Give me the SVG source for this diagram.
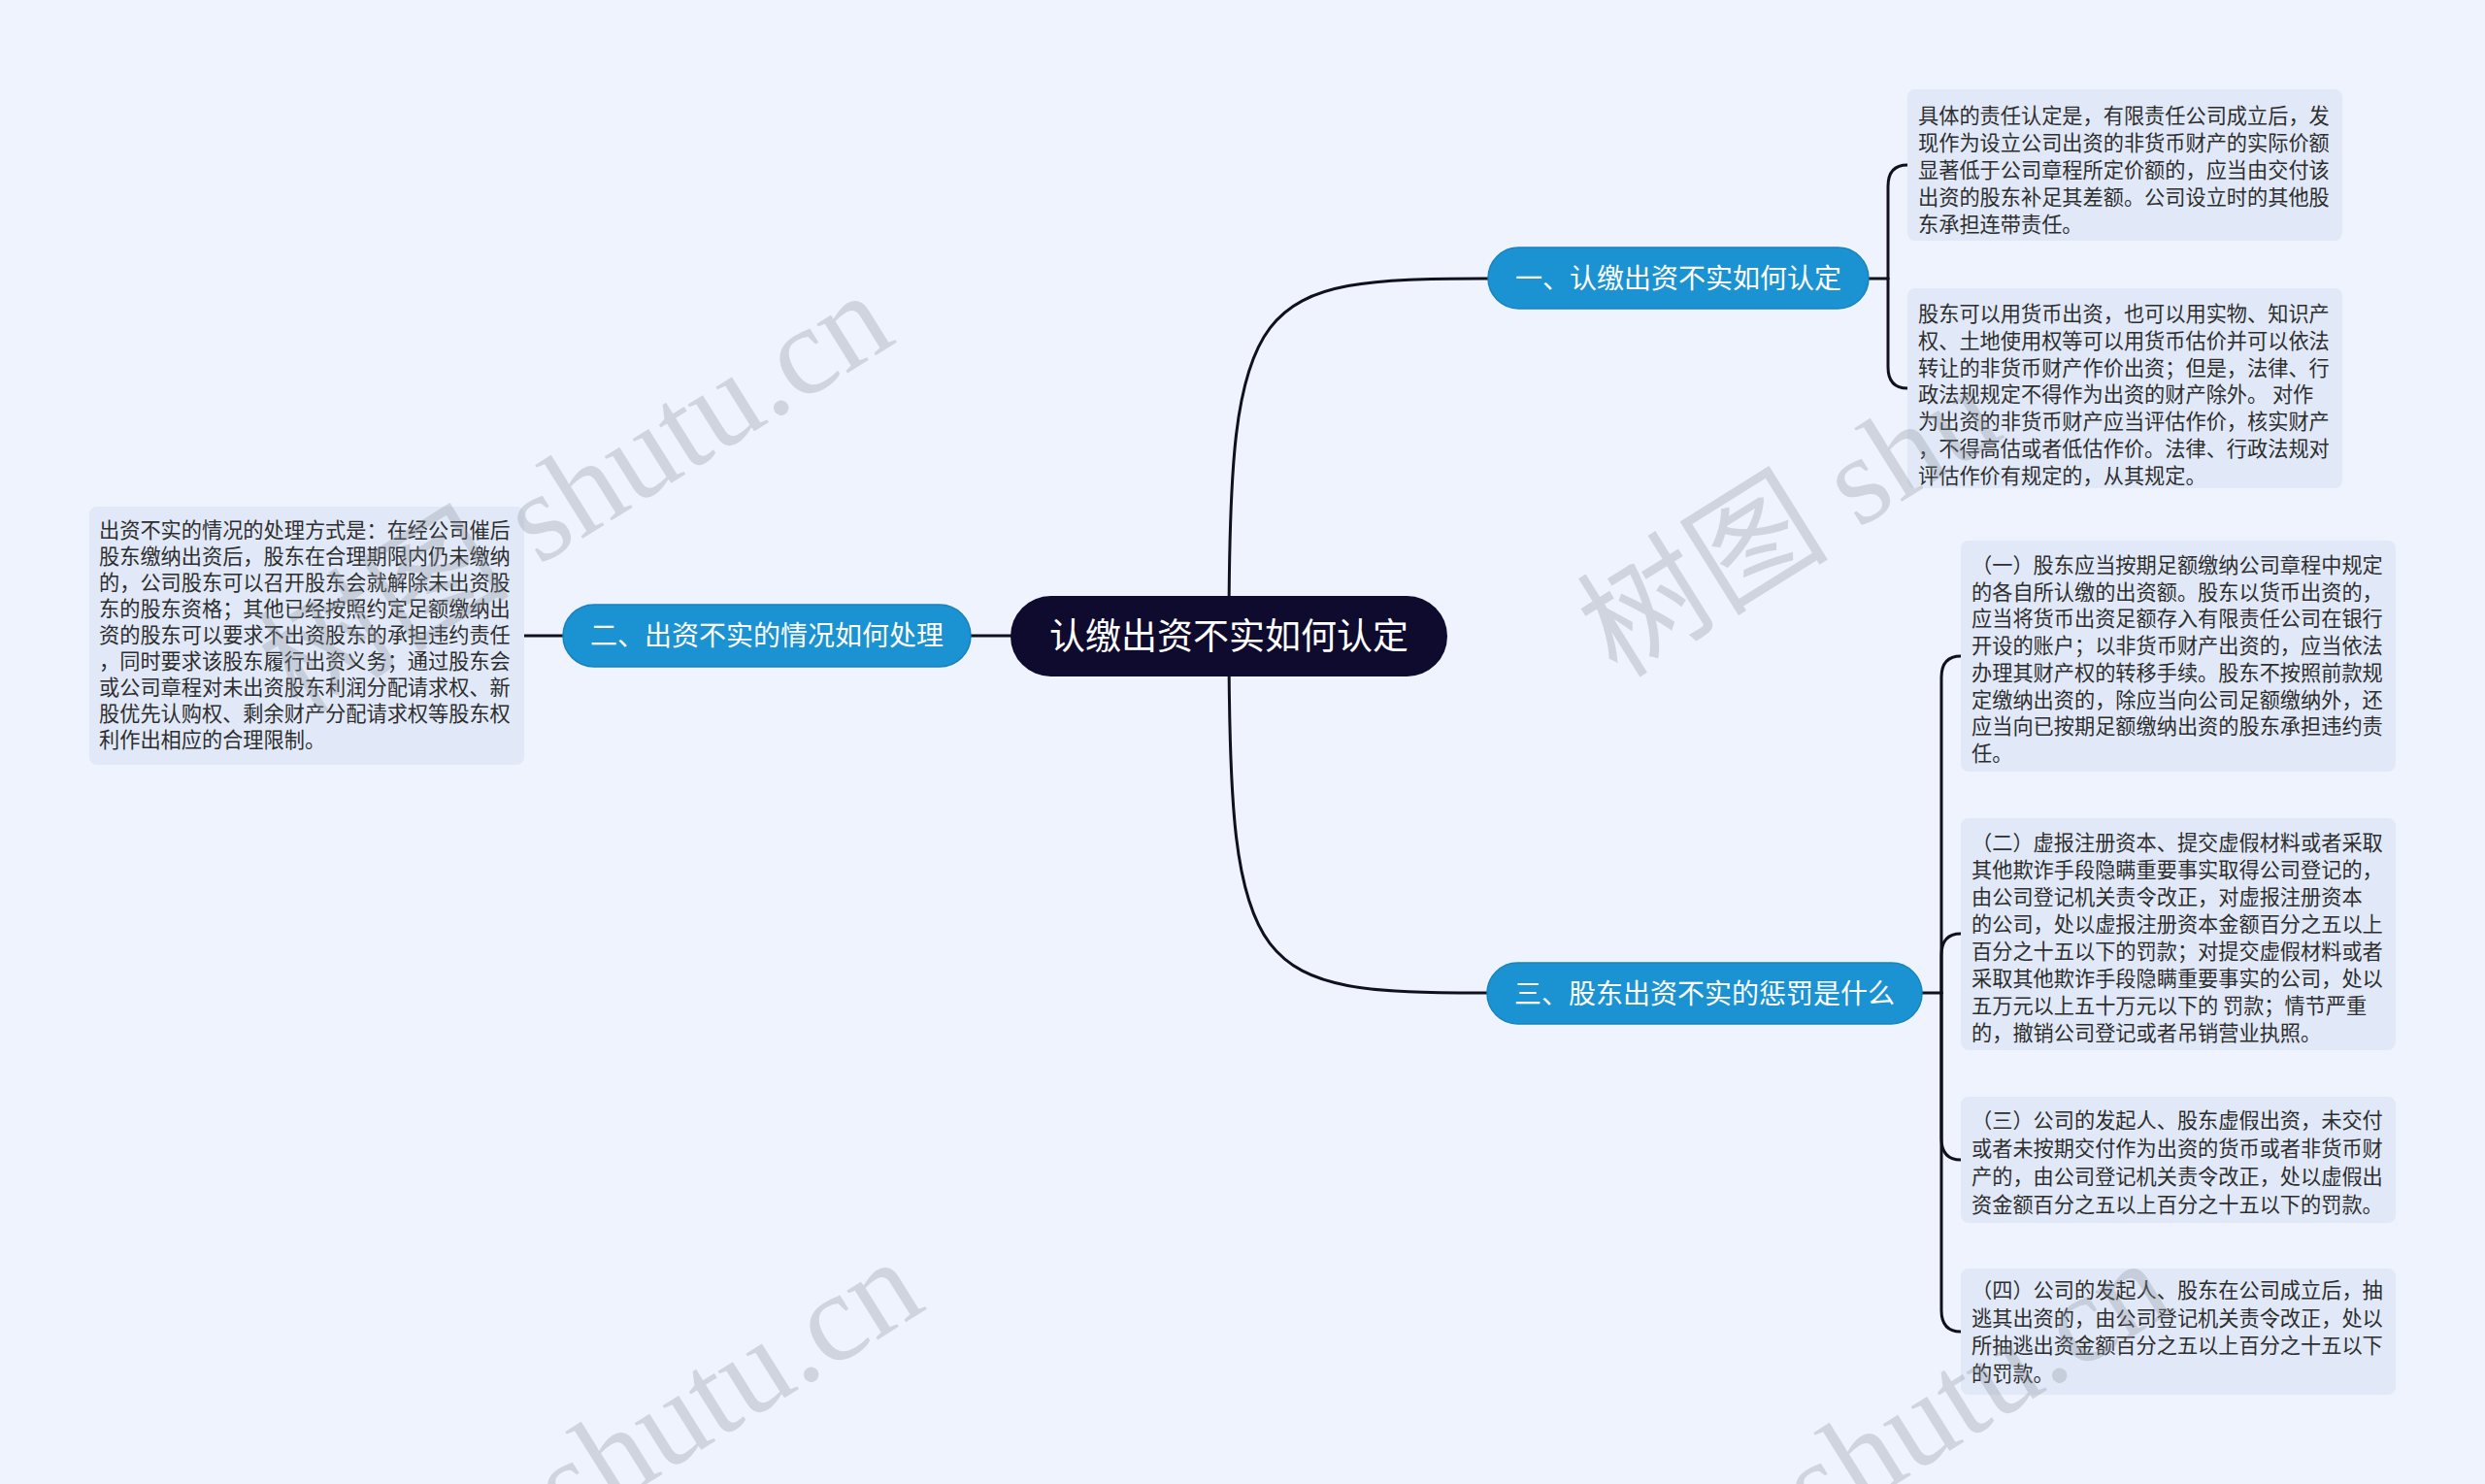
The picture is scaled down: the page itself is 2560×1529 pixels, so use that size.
<svg xmlns="http://www.w3.org/2000/svg" width="2560" height="1529" viewBox="0 0 2560 1529">
<style>
.bg{fill:#eef3fd}
.conn{fill:none;stroke:#101020;stroke-width:3;stroke-linecap:round}
.root{fill:#0f0b2e}
.branch{fill:#1b92d1;stroke:#1883bd;stroke-width:1.5}
.leaf{fill:#e1e9f8}
.rt{font-family:"Noto Sans CJK SC","Noto Sans",sans-serif;font-size:37px;fill:#ffffff;text-anchor:middle}
.bt{font-family:"Noto Sans CJK SC","Noto Sans",sans-serif;font-size:28px;fill:#ffffff;text-anchor:middle}
.lt{font-family:"Noto Sans CJK SC","Noto Sans",sans-serif;font-size:21.2px;fill:#2e2e2e}
.wm{font-family:"Liberation Serif","Noto Sans CJK SC",serif;font-size:130px;fill:#8a8f99;opacity:0.3}
</style>
<rect class="bg" x="0" y="0" width="2560" height="1529"/>

<g id="connectors">
  <path class="conn" d="M1266,655 C1266,300 1290,287 1533,287"/>
  <path class="conn" d="M1266,655 C1266,1010 1290,1023 1532,1023"/>
  <path class="conn" d="M1041,655 H1000"/>
  <path class="conn" d="M580,655 H540"/>
  <path class="conn" d="M1925,287 H1945"/>
  <path class="conn" d="M1945,287 V192 Q1945,170 1965,170"/>
  <path class="conn" d="M1945,287 V378 Q1945,400 1965,400"/>
  <path class="conn" d="M1980,1023 H2000"/>
  <path class="conn" d="M2000,1023 V698 Q2000,676 2020,676"/>
  <path class="conn" d="M2000,1023 V984 Q2000,962 2020,962"/>
  <path class="conn" d="M2000,1023 V1173 Q2000,1195 2020,1195"/>
  <path class="conn" d="M2000,1023 V1350 Q2000,1372 2020,1372"/>
</g>

<g id="root">
  <rect class="root" x="1041" y="614" width="450" height="83" rx="41.5"/>
  <text class="rt" x="1266" y="669">认缴出资不实如何认定</text>
</g>

<g id="branch1">
  <rect class="branch" x="1533" y="255" width="392" height="63" rx="31.5"/>
  <text class="bt" x="1729" y="297">一、认缴出资不实如何认定</text>
</g>
<g id="branch2">
  <rect class="branch" x="580" y="623" width="420" height="64" rx="32"/>
  <text class="bt" x="790" y="665">二、出资不实的情况如何处理</text>
</g>
<g id="branch3">
  <rect class="branch" x="1532" y="992" width="448" height="63" rx="31.5"/>
  <text class="bt" x="1756" y="1034">三、股东出资不实的惩罚是什么</text>
</g>

<g id="leaf1a">
  <rect class="leaf" x="1965" y="92" width="448" height="156" rx="8"/>
  <text class="lt">
    <tspan x="1976" y="127">具体的责任认定是，有限责任公司成立后，发</tspan>
    <tspan x="1976" y="155">现作为设立公司出资的非货币财产的实际价额</tspan>
    <tspan x="1976" y="183">显著低于公司章程所定价额的，应当由交付该</tspan>
    <tspan x="1976" y="211">出资的股东补足其差额。公司设立时的其他股</tspan>
    <tspan x="1976" y="239">东承担连带责任。</tspan>
  </text>
</g>
<g id="leaf1b">
  <rect class="leaf" x="1965" y="297" width="448" height="206" rx="8"/>
  <text class="lt">
    <tspan x="1976" y="331">股东可以用货币出资，也可以用实物、知识产</tspan>
    <tspan x="1976" y="358.8">权、土地使用权等可以用货币估价并可以依法</tspan>
    <tspan x="1976" y="386.6">转让的非货币财产作价出资；但是，法律、行</tspan>
    <tspan x="1976" y="414.4">政法规规定不得作为出资的财产除外。 对作</tspan>
    <tspan x="1976" y="442.2">为出资的非货币财产应当评估作价，核实财产</tspan>
    <tspan x="1976" y="470">，不得高估或者低估作价。法律、行政法规对</tspan>
    <tspan x="1976" y="497.8">评估作价有规定的，从其规定。</tspan>
  </text>
</g>
<g id="leaf2">
  <rect class="leaf" x="92" y="522" width="448" height="266" rx="8"/>
  <text class="lt">
    <tspan x="102" y="554">出资不实的情况的处理方式是：在经公司催后</tspan>
    <tspan x="102" y="581">股东缴纳出资后，股东在合理期限内仍未缴纳</tspan>
    <tspan x="102" y="608">的，公司股东可以召开股东会就解除未出资股</tspan>
    <tspan x="102" y="635">东的股东资格；其他已经按照约定足额缴纳出</tspan>
    <tspan x="102" y="662">资的股东可以要求不出资股东的承担违约责任</tspan>
    <tspan x="102" y="689">，同时要求该股东履行出资义务；通过股东会</tspan>
    <tspan x="102" y="716">或公司章程对未出资股东利润分配请求权、新</tspan>
    <tspan x="102" y="743">股优先认购权、剩余财产分配请求权等股东权</tspan>
    <tspan x="102" y="770">利作出相应的合理限制。</tspan>
  </text>
</g>
<g id="leaf3a">
  <rect class="leaf" x="2020" y="557" width="448" height="238" rx="8"/>
  <text class="lt">
    <tspan x="2031" y="590">（一）股东应当按期足额缴纳公司章程中规定</tspan>
    <tspan x="2031" y="617.7">的各自所认缴的出资额。股东以货币出资的，</tspan>
    <tspan x="2031" y="645.4">应当将货币出资足额存入有限责任公司在银行</tspan>
    <tspan x="2031" y="673.1">开设的账户；以非货币财产出资的，应当依法</tspan>
    <tspan x="2031" y="700.8">办理其财产权的转移手续。股东不按照前款规</tspan>
    <tspan x="2031" y="728.5">定缴纳出资的，除应当向公司足额缴纳外，还</tspan>
    <tspan x="2031" y="756.2">应当向已按期足额缴纳出资的股东承担违约责</tspan>
    <tspan x="2031" y="783.9">任。</tspan>
  </text>
</g>
<g id="leaf3b">
  <rect class="leaf" x="2020" y="843" width="448" height="239" rx="8"/>
  <text class="lt">
    <tspan x="2031" y="876">（二）虚报注册资本、提交虚假材料或者采取</tspan>
    <tspan x="2031" y="904">其他欺诈手段隐瞒重要事实取得公司登记的，</tspan>
    <tspan x="2031" y="932">由公司登记机关责令改正，对虚报注册资本</tspan>
    <tspan x="2031" y="960">的公司，处以虚报注册资本金额百分之五以上</tspan>
    <tspan x="2031" y="988">百分之十五以下的罚款；对提交虚假材料或者</tspan>
    <tspan x="2031" y="1016">采取其他欺诈手段隐瞒重要事实的公司，处以</tspan>
    <tspan x="2031" y="1044">五万元以上五十万元以下的 罚款；情节严重</tspan>
    <tspan x="2031" y="1072">的，撤销公司登记或者吊销营业执照。</tspan>
  </text>
</g>
<g id="leaf3c">
  <rect class="leaf" x="2020" y="1130" width="448" height="130" rx="8"/>
  <text class="lt">
    <tspan x="2031" y="1162">（三）公司的发起人、股东虚假出资，未交付</tspan>
    <tspan x="2031" y="1191">或者未按期交付作为出资的货币或者非货币财</tspan>
    <tspan x="2031" y="1220">产的，由公司登记机关责令改正，处以虚假出</tspan>
    <tspan x="2031" y="1249">资金额百分之五以上百分之十五以下的罚款。</tspan>
  </text>
</g>
<g id="leaf3d">
  <rect class="leaf" x="2020" y="1307" width="448" height="130" rx="8"/>
  <text class="lt">
    <tspan x="2031" y="1337">（四）公司的发起人、股东在公司成立后，抽</tspan>
    <tspan x="2031" y="1365.5">逃其出资的，由公司登记机关责令改正，处以</tspan>
    <tspan x="2031" y="1394">所抽逃出资金额百分之五以上百分之十五以下</tspan>
    <tspan x="2031" y="1422.5">的罚款。</tspan>
  </text>
</g>

<g id="watermarks">
  <text class="wm" transform="translate(307,738) rotate(-32)">树图 shutu.cn</text>
  <text class="wm" transform="translate(1666,700) rotate(-32)">树图 shu</text>
  <text class="wm" transform="translate(586,1579) rotate(-32)">shutu.cn</text>
  <text class="wm" transform="translate(1872,1580) rotate(-32)">shutu.cn</text>
</g>
</svg>
